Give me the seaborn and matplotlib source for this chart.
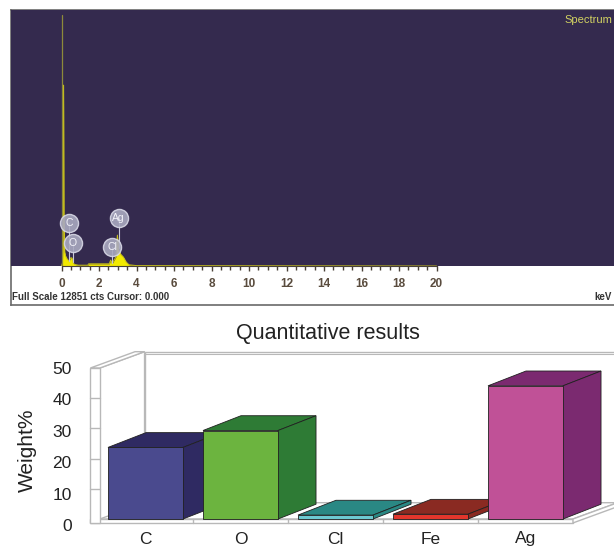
import numpy as np
import matplotlib
matplotlib.use('Agg')
import matplotlib.pyplot as plt
from matplotlib.patches import Polygon
from matplotlib.transforms import ScaledTranslation
import seaborn as sns

# -- data --
# EDX spectrum (keV, counts)
energy = [0.00, 0.05, 0.09, 0.11, 0.13, 0.17, 0.22, 0.30, 0.40, 0.50, 0.56, 0.62,
          0.70, 0.90, 1.40, 1.45, 2.55, 2.62, 2.70, 2.90, 2.98, 3.05, 3.15, 3.30,
          3.45, 3.60, 4.00, 20.0]
counts = [0, 150, 2000, 9080, 2500, 700, 500, 350, 250, 420, 400, 150,
          80, 40, 40, 110, 110, 300, 120, 450, 1550, 800, 600, 450,
          200, 60, 20, 0]
peak_labels = ['C', 'O', 'Cl', 'Ag']
peak_kev = [0.40, 0.61, 2.69, 3.04]
full_scale = 12851
xtick_vals = [0, 2, 4, 6, 8, 10, 12, 14, 16, 18, 20]

# quantitative results
elements = ['C', 'O', 'Cl', 'Fe', 'Ag']
weight_pct = [23.7, 29.3, 1.3, 1.6, 44.1]
yticks = [0, 10, 20, 30, 40, 50]

front_colors = ['#4a4a8e', '#6cb43f', '#6ccad2', '#e2362c', '#c05197']
dark_colors = ['#2f2a62', '#2e7b35', '#2a8884', '#8a2a22', '#7b2a70']

sns.set_style('white')
plt.rcParams['font.family'] = ['Liberation Sans', 'DejaVu Sans']

W, H = 614, 550
fig = plt.figure(figsize=(W / 100, H / 100), dpi=100)

def px_box(x0, y0, x1, y1):
    # pixel box (top-left origin) -> figure fraction rect
    return [x0 / W, 1 - y1 / H, (x1 - x0) / W, (y1 - y0) / H]

# -- 1. spectrum window --
frame = fig.add_axes(px_box(11, 10, 640, 305))
frame.set_xticks([]); frame.set_yticks([])
for s in frame.spines.values():
    s.set_color('#6a6a6a'); s.set_linewidth(1.2)

ax1 = fig.add_axes(px_box(11, 10, 614, 266))
ax1.set_facecolor('#342a4e')
ax1.fill_between(energy, counts, color='#f2ea00', lw=0)
sns.lineplot(x=energy, y=counts, ax=ax1, color='#c9c21a', lw=0.7)
ax1.axvline(0.05, ymax=0.98, color='#8d8a3a', lw=0.9)
ax1.set_xlim((11 - 61.5) / 18.75, (614 - 61.5) / 18.75)
ax1.set_ylim(0, full_scale)
for s in ['top', 'left', 'right']:
    ax1.spines[s].set_visible(False)
ax1.spines['bottom'].set_bounds(0, 20)
ax1.spines['bottom'].set_color('#4a4238')
ax1.set_yticks([])
ax1.set_xticks(xtick_vals)
ax1.set_xticks(np.arange(0, 20.5, 0.5), minor=True)
ax1.set_xticklabels([str(v) for v in xtick_vals], fontsize=8.5,
                    color='#5a4c3e', fontweight='bold')
ax1.tick_params(axis='x', which='both', direction='out', color='#4a4238',
                bottom=True, length=3.5, width=1, pad=5)
ax1.tick_params(axis='x', which='minor', length=3)

# element markers above the peaks
label_cts = [2160, 1155, 954, 2410]
stem_base = np.interp(peak_kev, energy, counts)
for name, xk, yc, yb in zip(peak_labels, peak_kev, label_cts, stem_base):
    ax1.plot([xk, xk], [yb, yc], color='#c8c8d8', lw=0.8, zorder=3)
    ax1.scatter([xk], [yc], s=170, color='#a9a9c0', edgecolor='#d8d8e6',
                linewidth=1.0, alpha=0.9, zorder=4)
    ax1.text(xk, yc, name, color='#f4f4fa', fontsize=7.5, ha='center',
             va='center', zorder=5)

fig.text(612 / W, 1 - 20 / H, 'Spectrum', color='#d2d262', fontsize=8,
         va='center', ha='right')
fig.text(12 / W, 1 - 297 / H, 'Full Scale 12851 cts Cursor: 0.000',
         color='#333333', fontsize=7, va='center', fontweight='bold')
fig.text(612 / W, 1 - 297 / H, 'keV', color='#333333', fontsize=7,
         va='center', ha='right', fontweight='bold')

# -- 2. quantitative results (pseudo 3D bars) --
ax2 = fig.add_axes(px_box(98, 368, 573, 519))
sns.barplot(x=elements, y=weight_pct, hue=elements, palette=front_colors,
            legend=False, width=0.79, saturation=1, edgecolor='#202020',
            linewidth=0.6, ax=ax2)
ax2.set_xlim(-0.5, 4.5)
ax2.set_ylim(0, 50)
ax2.set_facecolor('none')
for s in ax2.spines.values():
    s.set_visible(False)
ax2.set_yticks(yticks)
ax2.tick_params(axis='y', length=0, pad=19, labelsize=12.5, labelcolor='#222222')
ax2.tick_params(axis='x', length=0, pad=9, labelsize=12.5, labelcolor='#222222')
ax2.set_xlabel('')
# tick labels sit a little lower than the wall ticks, as in the picture
for i, lab in enumerate(ax2.get_yticklabels()):
    lab.set_transform(lab.get_transform() +
                      ScaledTranslation(0, -(5 - i) * 1.2 / 100, fig.dpi_scale_trans))

line_c = '#b8b8b8'
wdx, wdy = 0.47, 5.4     # wall depth
bdx, bdy = 0.40, 4.9     # bar depth
fl, fr, slab = -0.58, 4.5, -1.3

def poly(pts, fc, ec=line_c, z=1, lw=1.0):
    p = Polygon(pts, closed=True, facecolor=fc, edgecolor=ec, lw=lw,
                zorder=z, clip_on=False)
    ax2.add_patch(p)

# back wall
poly([(-0.48 + wdx, wdy), (fr + wdx, wdy), (fr + wdx, 50 + wdy),
      (-0.48 + wdx, 50 + wdy)], 'white', z=1)
ax2.plot([-0.48 + wdx, fr + wdx + 0.2], [50 + wdy - 0.6] * 2, color=line_c,
         lw=0.8, clip_on=False, zorder=1)
# floor top and slab
poly([(fl, 0), (fr, 0), (fr + wdx, wdy), (fl + wdx, wdy)], 'white', z=2)
poly([(fl, slab), (fr, slab), (fr, 0), (fl, 0)], 'white', z=2)
poly([(fr, slab), (fr + wdx, slab + wdy), (fr + wdx, wdy), (fr, 0)], 'white', z=2)
for xb in [0.5, 1.5, 2.5, 3.5]:
    ax2.plot([xb, xb], [slab, 0], color=line_c, lw=1, clip_on=False, zorder=2)
# left wall
poly([(-0.48, 0), (-0.48 + wdx, wdy), (-0.48 + wdx, 50 + wdy), (-0.48, 50)],
     'white', z=3)
poly([(fl, 50), (-0.48, 50), (-0.48 + wdx, 50 + wdy), (fl + wdx, 50 + wdy)],
     'white', z=3)
poly([(fl, slab), (-0.48, slab), (-0.48, 50), (fl, 50)], 'white', z=3)
for yt in yticks[1:-1]:
    ax2.plot([fl, -0.48], [yt, yt], color=line_c, lw=1, clip_on=False, zorder=3)

# bar tops and sides, drawn left to right so the next front face covers them
bars = sorted(ax2.patches[:len(elements)], key=lambda r: r.get_x())
for i, (bar, dc) in enumerate(zip(bars, dark_colors)):
    x0, w, h = bar.get_x(), bar.get_width(), bar.get_height()
    z = 10 + 2 * i
    poly([(x0, h), (x0 + w, h), (x0 + w + bdx, h + bdy), (x0 + bdx, h + bdy)],
         dc, ec='#202020', z=z, lw=0.6)
    poly([(x0 + w, 0), (x0 + w + bdx, bdy), (x0 + w + bdx, h + bdy), (x0 + w, h)],
         dc, ec='#202020', z=z, lw=0.6)
    bar.set_zorder(z + 1)
    bar.set_clip_on(False)

fig.text(328 / W, 1 - 333 / H, 'Quantitative results', fontsize=15.5,
         ha='center', va='center', color='#222222')
fig.text(27 / W, 1 - 450 / H, 'Weight%', fontsize=15, rotation=90,
         ha='center', va='center', color='#222222')

fig.savefig('out.png', dpi=100)
